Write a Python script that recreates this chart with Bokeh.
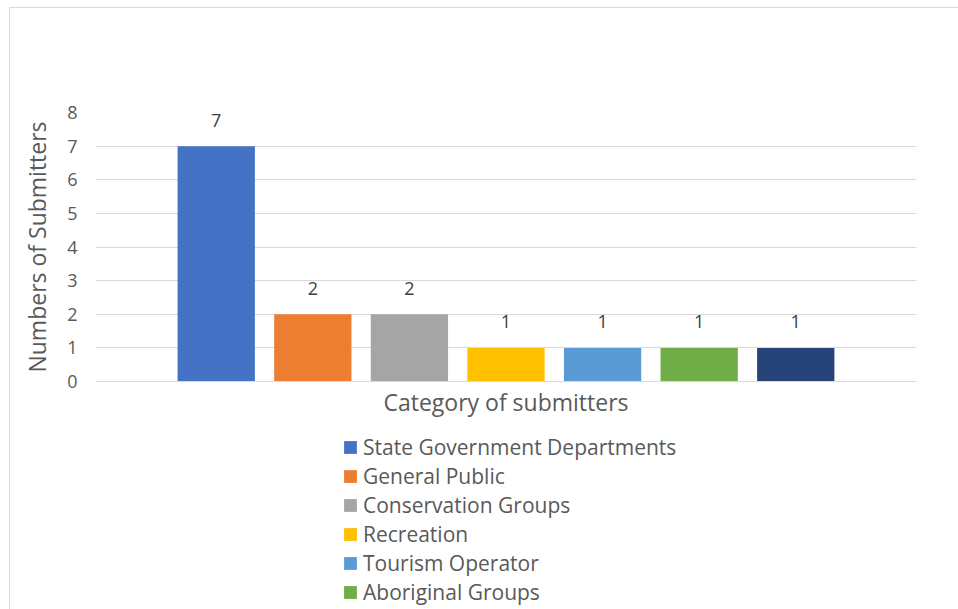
from bokeh.plotting import figure
from bokeh.layouts import column
from bokeh.models import ColumnDataSource, FactorRange, Legend, LegendItem, Range1d, FixedTicker
from bokeh.core.properties import value
from bokeh.embed import file_html
from bokeh.resources import INLINE

categories = ["State Government Departments", "General Public", "Conservation Groups",
              "Recreation", "Tourism Operator", "Aboriginal Groups", "Other"]
counts = [7, 2, 2, 1, 1, 1, 1]
colors = ["#4472C4", "#ED7D31", "#A5A5A5", "#FFC000", "#5B9BD5", "#70AD47", "#264478"]
y_ticks = [0, 1, 2, 3, 4, 5, 6, 7, 8]

FONT = "Open Sans"
TXT = "#595959"
GRID = "#d9d9d9"

src = ColumnDataSource(dict(cat=categories, n=counts, color=colors,
                            lab=[str(v) for v in counts]))

W = 948
PH = 412
p = figure(width=W, height=PH, output_backend="svg", toolbar_location=None,
           x_range=FactorRange(factors=categories, range_padding=1.5 / 7, range_padding_units="percent"),
           y_range=Range1d(0, 8),
           min_border_left=85, min_border_right=42, min_border_top=104, min_border_bottom=0)
p.outline_line_color = None

bars = p.vbar(x="cat", top="n", width=0.8, fill_color="color", line_color=None, source=src)
p.text(x="cat", y="n", text="lab", source=src, y_offset=-26, text_align="center",
       text_baseline="middle", text_font=value(FONT), text_font_size="18px", text_color="#404040")

p.xgrid.grid_line_color = None
p.ygrid.grid_line_color = GRID

p.yaxis.ticker = y_ticks
p.yaxis.axis_line_color = None
p.yaxis.major_tick_line_color = None
p.yaxis.minor_tick_line_color = None
p.yaxis.major_label_text_font = FONT
p.yaxis.major_label_text_font_size = "18px"
p.yaxis.major_label_text_color = TXT
p.yaxis.major_label_standoff = 12
p.yaxis.axis_label = "Numbers of Submitters"
p.yaxis.axis_label_text_font = FONT
p.yaxis.axis_label_text_font_size = "23px"
p.yaxis.axis_label_text_font_style = "normal"
p.yaxis.axis_label_text_color = TXT
p.yaxis.axis_label_standoff = 11

p.xaxis.ticker = FixedTicker(ticks=[])
p.xaxis.axis_line_color = GRID
p.xaxis.major_tick_line_color = None
p.xaxis.minor_tick_line_color = None
p.xaxis.major_label_standoff = 0
p.xaxis.axis_label = "Category of submitters"
p.xaxis.axis_label_text_font = FONT
p.xaxis.axis_label_text_font_size = "23px"
p.xaxis.axis_label_text_font_style = "normal"
p.xaxis.axis_label_text_color = TXT
p.xaxis.axis_label_standoff = 4

# legend panel below the chart
LH = 601 - PH
q = figure(width=W, height=LH, output_backend="svg", toolbar_location=None,
           x_range=FactorRange(factors=categories), y_range=Range1d(100, 101),
           min_border=0, min_border_left=0, min_border_right=0, min_border_top=0, min_border_bottom=0)
q.axis.visible = False
q.grid.visible = False
q.outline_line_color = None
lbars = q.vbar(x="cat", top="n", width=0.8, fill_color="color", line_color=None, source=src)

items = [LegendItem(label=categories[i], renderers=[lbars], index=i) for i in range(6)]
legend = Legend(items=items, location=(247, 3), orientation="vertical",
                label_text_font=FONT, label_text_font_size="21px", label_text_color=TXT,
                glyph_width=16, glyph_height=16, label_standoff=5, spacing=0,
                label_height=29, padding=0, margin=0, border_line_color=None,
                background_fill_alpha=0)
q.add_layout(legend, "center")

layout = column(p, q, spacing=0,
                styles={"margin-left": "9px", "margin-top": "7px",
                        "border-top": "1px solid #d9d9d9", "border-left": "1px solid #d9d9d9"})

open("out.html", "w").write(file_html(layout, INLINE))
